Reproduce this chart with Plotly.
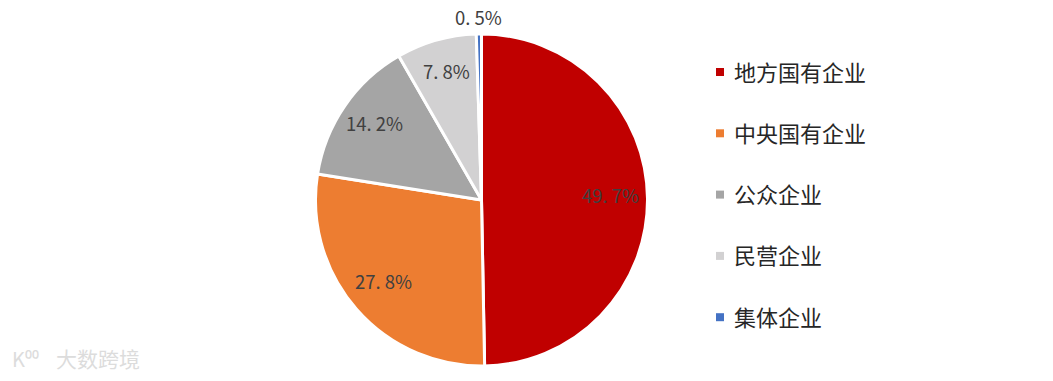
import math
import plotly.graph_objects as go

categories = ["地方国有企业", "中央国有企业", "公众企业", "民营企业", "集体企业"]
values = [49.7, 27.8, 14.2, 7.8, 0.5]
colors = ["#C00000", "#ED7D31", "#A5A5A5", "#D2D1D2", "#4472C4"]
text_positions = ["inside", "inside", "inside", "inside", "outside"]

labels_text = [f"{v:.1f}%".replace(".", ". ") for v in values]

W, H = 1053, 381
M_T, M_B = 34, 15
PLOT_H = H - M_T - M_B
CX, CY, R = 481.5, 200.0, 166.0


def px_to_paper(px, py):
    return px / W, 1 - (py - M_T) / PLOT_H


fig = go.Figure()
fig.add_trace(go.Pie(
    labels=categories,
    values=values,
    textinfo="none",
    sort=False,
    direction="clockwise",
    rotation=0,
    marker=dict(colors=colors, line=dict(color="white", width=3)),
    domain=dict(x=[(CX - R) / W, (CX + R) / W], y=[0, 1]),
    showlegend=False,
    hoverinfo="label+percent",
))

annotations = []
shapes = []

# slice labels placed at each slice's mid-angle
total = sum(values)
cum = 0.0
for v, txt, pos in zip(values, labels_text, text_positions):
    mid = (cum + v / 2) / total * 2 * math.pi
    cum += v
    inside = pos == "inside"
    f = 0.78 if inside else 1.1
    lx = CX + f * R * math.sin(mid)
    ly = CY - f * R * math.cos(mid) - (4 if inside else 0)
    x, y = px_to_paper(lx, ly)
    annotations.append(dict(
        xref="paper", yref="paper", x=x, y=y,
        xanchor="center", yanchor="middle",
        text=txt, showarrow=False,
        font=dict(family="Noto Sans CJK SC", size=18.5, color="#404040"),
    ))

# custom legend built from the category/colour lists
legend_top = 72
legend_step = 61.3
for i, (cat, col) in enumerate(zip(categories, colors)):
    yc = legend_top + i * legend_step
    x0, y0 = px_to_paper(716, yc - 4)
    x1, y1 = px_to_paper(724, yc + 4)
    shapes.append(dict(type="rect", xref="paper", yref="paper",
                       x0=x0, x1=x1, y0=y1, y1=y0,
                       fillcolor=col, line=dict(width=0)))
    tx, ty = px_to_paper(732, yc - 1.5)
    annotations.append(dict(
        xref="paper", yref="paper", x=tx, y=ty,
        xanchor="left", yanchor="middle",
        text=cat, showarrow=False,
        font=dict(family="Noto Sans CJK SC", size=22, color="#262626"),
    ))

# watermark
wx, wy = px_to_paper(10, 358)
annotations.append(dict(
    xref="paper", yref="paper", x=wx, y=wy,
    xanchor="left", yanchor="middle",
    text="K⁰⁰", showarrow=False,
    font=dict(family="Noto Sans CJK SC", size=20, color="#DCDCDC"),
))
wx, wy = px_to_paper(54, 358)
annotations.append(dict(
    xref="paper", yref="paper", x=wx, y=wy,
    xanchor="left", yanchor="middle",
    text="大数跨境", showarrow=False,
    font=dict(family="Noto Sans CJK SC", size=21, color="#DCDCDC"),
))

fig.update_layout(
    width=W, height=H,
    margin=dict(l=0, r=0, t=M_T, b=M_B),
    paper_bgcolor="white",
    plot_bgcolor="white",
    annotations=annotations,
    shapes=shapes,
)

fig.write_html("out.html", config={"displayModeBar": False},
               post_script="document.body.style.margin='0';")
